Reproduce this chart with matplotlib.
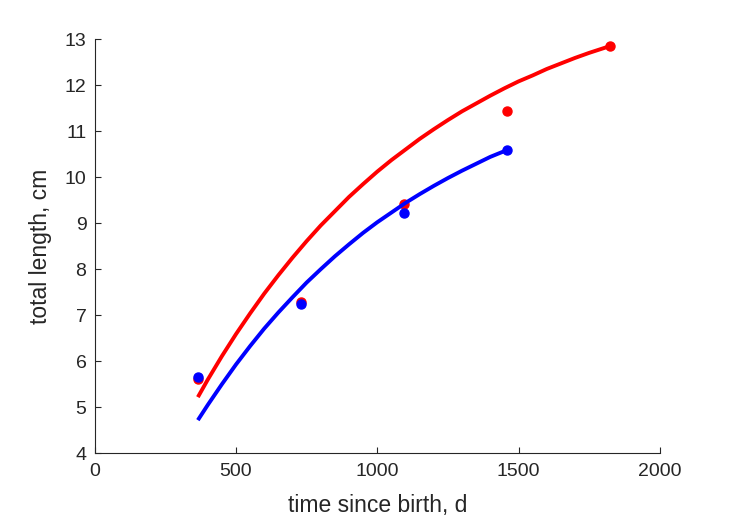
import numpy as np
import matplotlib
matplotlib.use('Agg')
import matplotlib.pyplot as plt

plt.rcParams['font.family'] = ['Liberation Sans', 'DejaVu Sans']

#%% data
# observed mean lengths (dots)
tRed = [365, 730, 1095, 1460, 1825]
lRed = [5.61, 7.28, 9.41, 11.43, 12.85]
tBlue = [365, 730, 1095, 1460]
lBlue = [5.65, 7.24, 9.22, 10.59]

# fitted growth curves (read point by point, every 50 d)
tFitRed = [365, 400, 450, 500, 550, 600, 650, 700, 750, 800, 850, 900, 950, 1000,
           1050, 1100, 1150, 1200, 1250, 1300, 1350, 1400, 1450, 1500, 1550, 1600,
           1650, 1700, 1750, 1800, 1825]
lFitRed = [5.22, 5.60, 6.11, 6.59, 7.04, 7.47, 7.87, 8.25, 8.61, 8.95, 9.26, 9.57, 9.85, 10.12,
           10.37, 10.60, 10.83, 11.04, 11.24, 11.43, 11.60, 11.77, 11.93, 12.08, 12.21, 12.35,
           12.47, 12.59, 12.70, 12.80, 12.85]
tFitBlue = [365, 400, 450, 500, 550, 600, 650, 700, 750, 800, 850, 900, 950, 1000,
            1050, 1100, 1150, 1200, 1250, 1300, 1350, 1400, 1460]
lFitBlue = [4.72, 5.05, 5.50, 5.93, 6.33, 6.71, 7.06, 7.39, 7.71, 8.00, 8.28, 8.54, 8.79, 9.02,
            9.23, 9.44, 9.63, 9.81, 9.98, 10.14, 10.29, 10.44, 10.59]

xTicks = [0, 500, 1000, 1500, 2000]
yTicks = [4, 5, 6, 7, 8, 9, 10, 11, 12, 13]

#%% plot
txt = '#262626'
fig = plt.figure(figsize=(7.29, 5.21), dpi=100)
ax = fig.add_axes([0.130, 0.130, 0.775, 0.795])

ax.plot(tRed, lRed, 'o', color='red', markersize=6.5, zorder=3)
ax.plot(tBlue, lBlue, 'o', color='blue', markersize=6.5, zorder=4)
ax.plot(tFitRed, lFitRed, '-', color='red', linewidth=2.8, solid_capstyle='butt', zorder=5)
ax.plot(tFitBlue, lFitBlue, '-', color='blue', linewidth=2.8, solid_capstyle='butt', zorder=6)

ax.set_xlim(0, 2000)
ax.set_ylim(4, 13)
ax.set_xticks(xTicks)
ax.set_yticks(yTicks)
ax.spines['top'].set_visible(False)
ax.spines['right'].set_visible(False)
for s in ['left', 'bottom']:
    ax.spines[s].set_color(txt)
    ax.spines[s].set_linewidth(0.8)
ax.tick_params(direction='in', length=4, width=0.8, colors=txt, labelsize=14, pad=6)
ax.tick_params(axis='x', pad=7)

ax.set_xlabel('time since birth, d', fontsize=16.5, color=txt, labelpad=10)
ax.set_ylabel('total length, cm', fontsize=16.5, color=txt, labelpad=9)

fig.savefig('out.png', dpi=100)
